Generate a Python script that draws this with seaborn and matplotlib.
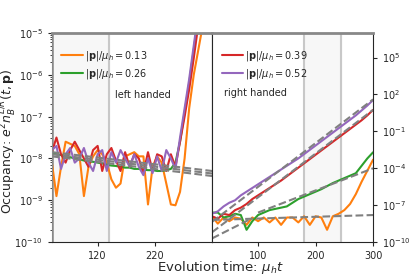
import numpy as np
import pandas as pd
import matplotlib
matplotlib.use("Agg")
import matplotlib.pyplot as plt
import seaborn as sns

# time grids
t_left = [40, 48, 56, 64, 72, 80, 88, 96, 104, 112, 120, 128, 136, 144, 152, 160, 168, 176,
          184, 192, 200, 208, 216, 224, 232, 240, 248, 256, 264, 272, 280, 288, 296, 304, 312, 320]
t_right = [20, 30, 40, 50, 60, 70, 80, 90, 100, 110, 120, 130, 140, 150, 160, 170, 180, 190,
           200, 210, 220, 230, 240, 250, 260, 270, 280, 290, 300]

# left handed, log10 occupancy
left_013 = [-8.1, -8.9, -8.2, -7.6, -7.65, -7.7, -7.9, -8.9, -8.2, -7.95, -7.8, -7.9, -8.1, -8.5,
            -8.7, -8.6, -7.95, -7.9, -7.85, -7.95, -7.95, -9.1, -8.2, -7.95, -8.1, -8.6, -9.1,
            -9.12, -8.8, -8.0, -6.8, -6.0, -5.4, -4.8, -4.2, -3.6]
left_026 = [-7.85, -7.9, -7.92, -7.95, -7.97, -8.0, -8.02, -8.05, -8.07, -8.08, -8.1, -8.12, -8.15,
            -8.17, -8.18, -8.2, -8.22, -8.22, -8.25, -8.25, -8.27, -8.28, -8.28, -8.3, -8.3, -8.28,
            -8.25, -8.1, -7.6, -6.9, -6.2, -5.4, -4.6, -3.8, -3.0, -2.2]
left_039 = [-7.85, -7.5, -7.9, -8.1, -7.8, -7.6, -7.8, -8.0, -8.2, -7.8, -7.7, -8.3, -7.9, -7.75,
            -8.05, -8.3, -7.85, -8.2, -7.9, -8.0, -8.35, -7.85, -8.3, -7.9, -7.95, -8.3, -7.9,
            -8.2, -7.6, -7.0, -6.35, -5.6, -4.8, -4.0, -3.2, -2.4]
left_052 = [-7.8, -7.7, -8.25, -7.9, -7.75, -8.1, -8.0, -7.75, -8.1, -8.3, -7.9, -7.8, -8.3, -7.85,
            -8.1, -7.8, -8.0, -8.2, -7.9, -8.2, -8.4, -8.0, -8.35, -7.95, -8.3, -7.8, -8.0,
            -8.25, -7.5, -6.8, -6.1, -5.3, -4.5, -3.7, -2.9, -2.1]

# right handed, log10 occupancy
right_013 = [-7.9, -8.5, -8.0, -8.3, -8.0, -8.1, -8.6, -8.0, -8.3, -8.0, -8.4, -8.0, -8.6, -8.0,
             -8.0, -8.4, -7.9, -8.6, -7.9, -8.0, -9.0, -7.9, -7.7, -7.4, -6.9, -6.1, -5.1, -4.2, -3.3]
right_026 = [-7.6, -7.6, -8.0, -7.9, -7.7, -7.8, -9.0, -8.3, -7.8, -7.6, -7.4, -7.3, -7.2, -7.1,
             -6.8, -6.5, -6.3, -6.1, -5.9, -5.7, -5.45, -5.2, -5.0, -4.8, -4.6, -4.4, -3.8, -3.2, -2.7]
right_039 = [-7.9, -8.1, -7.7, -7.8, -7.4, -7.2, -6.9, -6.5, -6.2, -5.9, -5.6, -5.3, -5.0, -4.65,
             -4.3, -3.95, -3.6, -3.25, -2.9, -2.55, -2.2, -1.85, -1.5, -1.15, -0.8, -0.45, -0.1, 0.3, 0.75]
right_052 = [-7.7, -7.5, -7.1, -6.8, -6.6, -6.2, -5.9, -5.6, -5.3, -5.0, -4.7, -4.4, -4.1, -3.8,
             -3.5, -3.2, -2.85, -2.5, -2.15, -1.8, -1.45, -1.1, -0.75, -0.4, -0.05, 0.3, 0.7, 1.1, 1.55]

# dashed fits: (t start, t end), (log10 start, log10 end)
fits_left = [([40, 320], [-7.85, -8.3]),
             ([40, 320], [-7.9, -8.36]),
             ([40, 320], [-7.95, -8.42])]
fits_right = [([20, 300], [-8.35, 1.6]),
              ([20, 300], [-9.2, 0.75]),
              ([100, 300], [-7.6, -4.0]),
              ([20, 300], [-8.2, -7.8]),
              ([20, 90], [-9.7, -8.05])]

momenta = ["0.13", "0.26", "0.39", "0.52"]
colors = ["#ff7f0e", "#2ca02c", "#d62728", "#9467bd"]

sns.set_style("ticks")
plt.rcParams["font.size"] = 7

fig = plt.figure(figsize=(4.15, 2.77), dpi=100)
ax1 = fig.add_axes([0.125, 0.126, 0.386, 0.755])
ax2 = fig.add_axes([0.511, 0.126, 0.388, 0.755])

# shaded windows
ax1.axvspan(40, 140, color="#f7f7f7", zorder=0)
ax1.axvline(40, color="#999999", lw=2, zorder=1)
ax1.axvline(140, color="#c8c8c8", lw=1.5, zorder=1)
ax2.axvspan(180, 245, color="#f7f7f7", zorder=0)
ax2.axvline(180, color="#c8c8c8", lw=1.5, zorder=1)
ax2.axvline(245, color="#c8c8c8", lw=1.5, zorder=1)

left_series = [left_013, left_026, left_039, left_052]
right_series = [right_013, right_026, right_039, right_052]

for i, (ys, c) in enumerate(zip(left_series, colors)):
    lab = r"$|\mathbf{p}|/\mu_h = %s$" % momenta[i] if i < 2 else None
    sns.lineplot(x=t_left, y=10 ** np.array(ys), color=c, lw=1.5, ax=ax1, label=lab, legend=False)
for ft, fy in fits_left:
    sns.lineplot(x=ft, y=10 ** np.array(fy), color="gray", lw=1.5, ls="--", ax=ax1)

for i, (ys, c) in enumerate(zip(right_series, colors)):
    lab = r"$|\mathbf{p}|/\mu_h = %s$" % momenta[i] if i >= 2 else None
    sns.lineplot(x=t_right, y=10 ** np.array(ys), color=c, lw=1.5, ax=ax2, label=lab, legend=False)
for ft, fy in fits_right:
    sns.lineplot(x=ft, y=10 ** np.array(fy), color="gray", lw=1.5, ls="--", ax=ax2)

ax1.set_yscale("log")
ax1.set_xlim(40, 320)
ax1.set_ylim(1e-10, 1e-5)
ax1.set_xticks([120, 220])
ax1.tick_params(labelsize=7, length=3)
ax1.tick_params(axis="y", which="minor", length=1.5)
ax1.spines["top"].set_color("#888888")
ax1.spines["top"].set_linewidth(2)
ax1.spines["left"].set_color("#888888")
ax1.set_xlabel("")
ax1.set_ylabel(r"Occupancy: $e^2 n_B^{L/R}(t,\mathbf{p})$", fontsize=9)
ax1.yaxis.set_label_coords(-0.21, 0.48)
ax1.text(150, 10 ** -6.55, "left handed", fontsize=7)
ax1.legend(loc="upper left", frameon=False, fontsize=7, bbox_to_anchor=(0.035, 0.94),
           borderaxespad=0, handlelength=2.2, handletextpad=0.2, labelspacing=0.35)

ax2.set_yscale("log")
ax2.set_xlim(20, 300)
ax2.set_ylim(1e-10, 1e7)
ax2.set_xticks([100, 200, 300])
ax2.set_yticks([1e5, 1e2, 1e-1, 1e-4, 1e-7, 1e-10])
ax2.yaxis.set_minor_locator(matplotlib.ticker.NullLocator())
ax2.yaxis.tick_right()
ax2.tick_params(labelsize=7, length=3)
ax2.spines["top"].set_color("#888888")
ax2.spines["top"].set_linewidth(2)
ax2.set_xlabel("")
ax2.text(41, 10 ** 1.85, "right handed", fontsize=7)
ax2.legend(loc="upper left", frameon=False, fontsize=7, bbox_to_anchor=(0.035, 0.94),
           borderaxespad=0, handlelength=2.2, handletextpad=0.2, labelspacing=0.35)

fig.text(0.53, 0.02, r"Evolution time: $\mu_h t$", ha="center", fontsize=9.5)

fig.savefig("out.png", dpi=100)
